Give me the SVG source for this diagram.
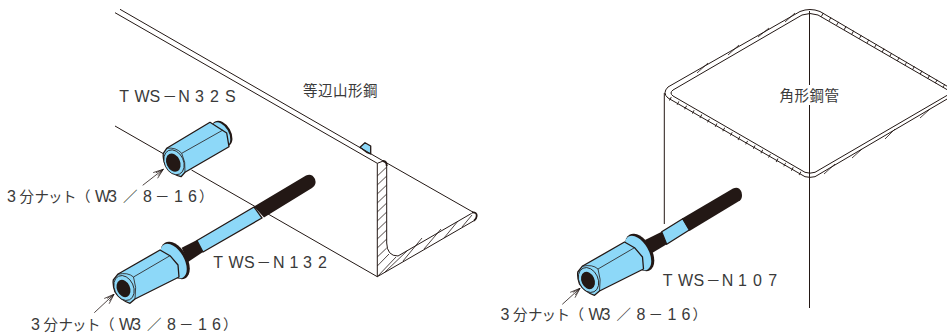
<svg xmlns="http://www.w3.org/2000/svg" width="947" height="336" viewBox="0 0 947 336">
<style>
.l{fill:none;stroke:#231815;stroke-width:1}
.t{fill:none;stroke:#231815;stroke-width:.8}
.o{stroke:#231815;stroke-width:1.3;stroke-linejoin:round}
.b{fill:#8dd8f8}
.k{fill:#231815}
.x{font-family:"Noto Sans CJK JP",sans-serif;font-size:14.5px;fill:#3a3a3a}
.n{font-family:"Liberation Sans",sans-serif;font-size:16px}
.a{fill:none;stroke:#231815;stroke-width:.8;marker-end:url(#ah)}
</style>
<defs>
<marker id="ah" markerUnits="userSpaceOnUse" markerWidth="12" markerHeight="10" refX="11" refY="5" orient="auto">
<path d="M1,1.4L11,5L1,8.6M3,3.2L11,5L3,6.8" fill="none" stroke="#231815" stroke-width=".7"/>
</marker>
<g id="nutLong">
<ellipse class="k" cx="175.200" cy="260.400" rx="20.500" ry="12" transform="rotate(60 175.200 260.400)"/>
<ellipse class="b" cx="173.600" cy="261" rx="19" ry="10.500" transform="rotate(60 173.600 261)"/>
<path class="b o" d="M113.300,280L117.700,274.300L160,250L170,255.700L178,265L179,277L135,299L130,303.300Q120,300 115,292Q112.500,285 113.300,280Z"/>
<path class="t" d="M133.500,277L170,255.700M117.700,274.300Q128,272 133.500,277Q137,287 135,299"/>
<ellipse class="b" cx="124" cy="288" rx="9.500" ry="13" transform="rotate(-25 124 288)" stroke="#231815" stroke-width=".8"/>
<ellipse class="k" cx="123.500" cy="288.500" rx="6.500" ry="9" transform="rotate(-25 123.500 288.500)"/>
</g>
</defs>

<g id="angle-steel">
<path class="b o" d="M360,147.300L365,142.700L370.700,146L370.700,154L367.300,152.700Z" stroke-width="1"/>
<path class="l" d="M120,9.300L383.300,161L473.300,212.300M115,12.700L377.300,163.300L383.300,161M115,126L163,153.500M191.500,170L377.300,276.700L474,220.700M377.300,163.300V276.700M386.700,165V243Q387,256 398,256L471.700,213.300"/>
<path d="M383,161Q387,161.500 386.700,166M472,212.500Q477,212 476.700,216Q476.500,219 474,220.700" fill="none" stroke="#231815" stroke-width="1.800"/>
<path class="t" d="M377.300,176L386.700,167M377.300,185L386.700,176M377.300,194L386.700,185M377.300,203L386.700,194M377.300,212L386.700,203M377.300,221L386.700,212M377.300,230L386.700,221M377.300,239L386.700,230M377.300,248L386.700,239M377.300,257L386.700,248M377.300,266L389,254M377.300,276.700L396,257M385,272L408,250M403,261L422,238M424,249L441,229M444,238L458,221M462,227L472,215"/>
</g>

<g id="square-tube">
<path class="l" d="M815,176.700Q810,178 805,176.700L668,98Q662,93 668,87L800,11.500Q810,7.500 820,11.500L958,92.600Z"/>
<path class="l" d="M815,172.300Q810,174 805,172.300L673,96Q669,93 673,90L802,15Q810,12 818,15L952,92.500Z"/>
<path d="M822,14.500L948,88.300M670,98.500L803,175.200" fill="none" stroke="#231815" stroke-width="4" stroke-dasharray=".8 8"/>
<path class="t" d="M697,73L708,63M728,55L739,45M758,37L769,28M785,22L795,13M824,174L835,164M852,158L862,149M885,139L895,129M920,118L930,109"/>
<path class="l" d="M664.300,93V224M809.500,11V85M809.500,105V308"/>
</g>

<g id="bolt-n132">
<path class="k" d="M181.700,247.700L197,240L203,252L188,262Z"/>
<path class="b o" d="M197,240.500L254,207L262,218L203,252Z" stroke-width=".8"/>
<path class="k" d="M254,206.500L306,175.500Q312,173 315,179Q317,185 312,188L264,217.500Z"/>
<use href="#nutLong"/>
</g>

<g id="bolt-n107">
<path class="k" d="M645,240L661.700,231.700L666.700,244.300L651.700,253.300Z"/>
<path class="b o" d="M661.700,231.700L682.700,218.700L689.300,230L666.700,244.300Z" stroke-width=".8"/>
<path class="k" d="M682,218.500L733,188.500Q739,186 741.500,192Q743,198 740,200.500L689.500,231Z"/>
<use href="#nutLong" transform="translate(464.500 -8)"/>
</g>

<g id="nut-n32s">
<ellipse class="k" cx="222" cy="133.700" rx="14" ry="9" transform="rotate(60 222 133.700)"/>
<ellipse class="b" cx="220.800" cy="134.300" rx="13" ry="8" transform="rotate(60 220.800 134.300)"/>
<path class="b o" d="M163.300,153.300L166.700,148.300L210,122.300L226.700,133L229,146.700L185,172.300L181,176.700Q171,174 166,166Q162.500,159 163.300,153.300Z"/>
<path class="t" d="M181.700,153.300L223,130M166.700,148.300Q176,147 181.700,153.300Q186,162 185,172.300"/>
<ellipse class="b" cx="174" cy="162.300" rx="9.500" ry="13" transform="rotate(-25 174 162.300)" stroke="#231815" stroke-width=".8"/>
<ellipse class="k" cx="173.300" cy="162.700" rx="6.800" ry="9.500" transform="rotate(-25 173.300 162.700)"/>
</g>

<g id="connectors">
<path class="a" d="M142.700,185.300L163.300,169.300"/>
<path class="a" d="M94.300,312.700L114,294.300"/>
<path class="a" d="M562.300,304.300L580,288.300"/>
</g>

<g id="labels">
<text class="x" y="101.500"><tspan class="n" x="119.300 134.500 149.500">TWS</tspan><tspan x="162.500">－</tspan><tspan class="n" x="178.300 195 210 225">N32S</tspan></text>
<text class="x" y="267.500"><tspan class="n" x="213.300 228.500 244">TWS</tspan><tspan x="256.500">－</tspan><tspan class="n" x="273 289.500 303 318">N132</tspan></text>
<text class="x" y="286"><tspan class="n" x="662.700 678 693.500">TWS</tspan><tspan x="706">－</tspan><tspan class="n" x="721.700 738 753 768.300">N107</tspan></text>
<text class="x" x="303 318 333 348 363" y="95.500">等辺山形鋼</text>
<text class="x" x="779.500 794.500 809.500 824.500" y="101">角形鋼管</text>
<text class="x" y="202"><tspan class="n" x="7">3</tspan><tspan x="19.500 34.500 48 62 76">分ナット（</tspan><tspan class="n" x="95 108">W3</tspan><tspan x="123">／</tspan><tspan class="n" x="143">8</tspan><tspan x="155">－</tspan><tspan class="n" x="174 188">16</tspan><tspan x="199">）</tspan></text>
<text class="x" y="330"><tspan class="n" x="31">3</tspan><tspan x="43.500 58.500 72 86 100">分ナット（</tspan><tspan class="n" x="119 132">W3</tspan><tspan x="147">／</tspan><tspan class="n" x="167">8</tspan><tspan x="179">－</tspan><tspan class="n" x="198 212">16</tspan><tspan x="223">）</tspan></text>
<text class="x" y="320"><tspan class="n" x="500.500">3</tspan><tspan x="513 528 541.500 555.500 569.500">分ナット（</tspan><tspan class="n" x="588.500 601.500">W3</tspan><tspan x="616.500">／</tspan><tspan class="n" x="636.500">8</tspan><tspan x="648.500">－</tspan><tspan class="n" x="667.500 681.500">16</tspan><tspan x="692.500">）</tspan></text>
</g>
</svg>
